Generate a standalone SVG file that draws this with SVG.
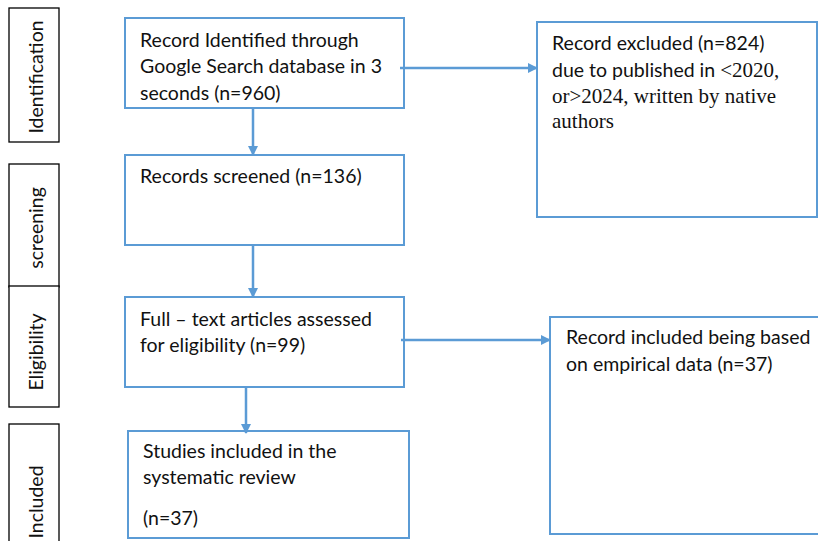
<svg xmlns="http://www.w3.org/2000/svg" width="818" height="541" viewBox="0 0 818 541">
<style>
.lab{fill:#fff;stroke:#000;stroke-width:1.3}
.box{fill:#fff;stroke:#5B9BD5;stroke-width:2}
.t{font-family:Lato,"Open Sans",sans-serif;font-size:19.5px;fill:#111}
.tr{font-family:"Liberation Serif","Times New Roman",serif;font-size:21px;fill:#111}
.ln{stroke:#5B9BD5;stroke-width:2.5;fill:none}
</style>
<defs>
<marker id="ah" viewBox="0 0 10 10" refX="9" refY="5" markerWidth="4" markerHeight="4.4" orient="auto" markerUnits="strokeWidth">
<path d="M0,0 L10,5 L0,10 z" fill="#5B9BD5"/>
</marker>
</defs>
<rect width="818" height="541" fill="#fff"/>
<g id="stage-identification"><rect class="lab" x="9" y="8" width="50" height="134"/><text class="t" text-anchor="middle" transform="translate(43,77) rotate(-90)">Identification</text></g>
<g id="stage-screening"><rect class="lab" x="9" y="164" width="50" height="123"/><text class="t" text-anchor="middle" transform="translate(43,228) rotate(-90)">screening</text></g>
<g id="stage-eligibility"><rect class="lab" x="9" y="286" width="50" height="121"/><text class="t" text-anchor="middle" transform="translate(43,352) rotate(-90)">Eligibility</text></g>
<g id="stage-included"><rect class="lab" x="9" y="424" width="50" height="130"/><text class="t" text-anchor="middle" transform="translate(43,502) rotate(-90)">Included</text></g>
<g id="identified"><rect class="box" x="125" y="18" width="279" height="90"/><text class="t" x="140" y="47">Record Identified through</text><text class="t" x="140" y="73">Google Search database in 3</text><text class="t" x="140" y="100">seconds (n=960)</text></g>
<g id="screened"><rect class="box" x="125" y="155" width="279" height="90"/><text class="t" x="140" y="183">Records screened (n=136)</text></g>
<g id="fulltext"><rect class="box" x="125" y="297" width="279" height="90"/><text class="t" x="140" y="326">Full – text articles assessed</text><text class="t" x="140" y="352">for eligibility (n=99)</text></g>
<g id="studies"><rect class="box" x="128" y="431" width="281" height="107"/><text class="t" x="143" y="458">Studies included in the</text><text class="t" x="143" y="484">systematic review</text><text class="t" x="143" y="525">(n=37)</text></g>
<g id="excluded"><rect class="box" x="537" y="22" width="280" height="195"/><text class="t" x="552" y="50">Record excluded (n=824)</text><text x="552" y="77"><tspan class="t">due to published in </tspan><tspan class="tr">&lt;2020,</tspan></text><text class="tr" x="552" y="103">or&gt;2024, written by native</text><text class="tr" x="552" y="128">authors</text></g>
<g id="empirical"><rect class="box" x="550" y="317" width="280" height="217"/><text class="t" x="566" y="344">Record included being based</text><text class="t" x="566" y="371">on empirical data (n=37)</text></g>
<g id="connectors">
<line class="ln" x1="253" y1="108" x2="253" y2="155" marker-end="url(#ah)"/>
<line class="ln" x1="253" y1="245" x2="253" y2="297" marker-end="url(#ah)"/>
<line class="ln" x1="246" y1="387" x2="246" y2="433" marker-end="url(#ah)"/>
<line class="ln" x1="400" y1="68" x2="537" y2="68" marker-end="url(#ah)"/>
<line class="ln" x1="401" y1="340" x2="550" y2="340" marker-end="url(#ah)"/>
</g>
</svg>
